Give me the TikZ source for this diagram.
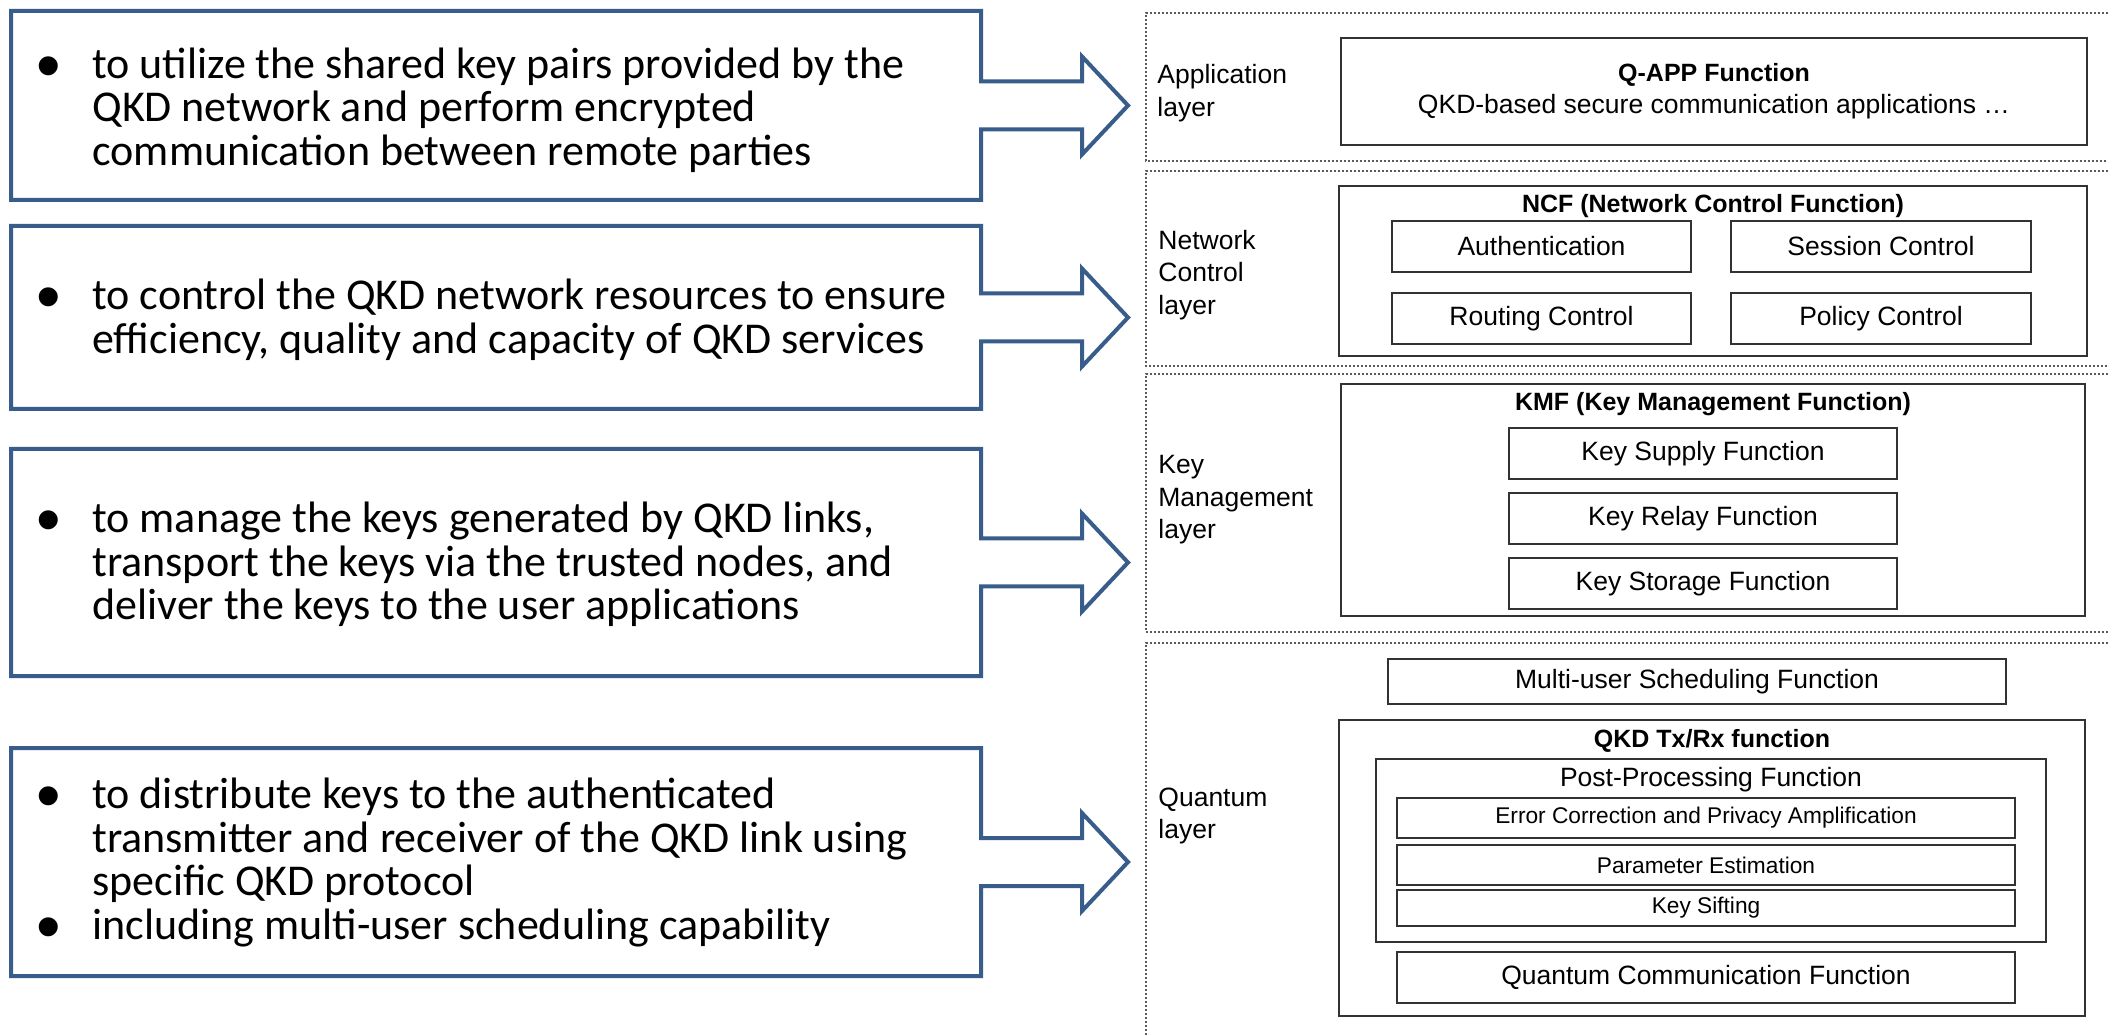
\documentclass[tikz,border=0pt]{standalone}
\usepackage{fontspec}
\setmainfont{Liberation Sans}
\newfontfamily\calfont{Carlito}
\usetikzlibrary{calc}
\definecolor{callblue}{RGB}{56,93,138}
\definecolor{boxgray}{RGB}{50,50,50}
\definecolor{dotgray}{RGB}{90,90,90}
\newcommand{\bul}{\makebox[28pt][l]{\raisebox{-5.5pt}{\normalfont\fontsize{35}{22}\selectfont •}}}
\newcommand{\ind}{\hspace*{28pt}}
\newcommand{\fbx}[6]{%
  \pgfmathsetmacro{\fw}{(#4-#2)*0.5}%
  \pgfmathsetmacro{\fh}{(#5-#3)*0.5}%
  \node[fbox, minimum width=\fw pt, minimum height=\fh pt] (#1) at ({(#2+#4)/2},{(#3+#5)/2}) {#6};}
\newcommand{\callbody}[3]{%
  \pgfmathsetmacro{\fh}{(#3-#2)*0.5}%
  \node[calbody, minimum height=\fh pt] (#1) at (496,{(#2+#3)/2}) {};
  \draw[callout] (#1.north west) -- (#1.north east) -- ($(#1.east)+(0,-24)$) -- ($(#1.east)+(101,-24)$) -- ($(#1.east)+(101,-49)$) -- ($(#1.east)+(147,0)$) -- ($(#1.east)+(101,49)$) -- ($(#1.east)+(101,24)$) -- ($(#1.east)+(0,24)$) -- (#1.south east) -- (#1.south west) -- cycle;}
\begin{document}
\begin{tikzpicture}[x=0.5pt,y=-0.5pt,
  callout/.style={draw=callblue, line width=2pt, fill=white, line join=miter},
  calbody/.style={rectangle, inner sep=0pt, outer sep=0pt, minimum width=485pt},
  caltext/.style={anchor=west, align=left, inner sep=0pt, font=\calfont\fontsize{22}{21.75}\selectfont},
  fbox/.style={draw=boxgray, line width=1pt, fill=white, inner sep=0pt, align=center, font=\fontsize{13.25}{16}\selectfont},
  smallbox/.style={font=\fontsize{11.35}{13}\selectfont},
  ftitle/.style={inner sep=0pt, font=\bfseries\fontsize{12.5}{15}\selectfont},
  plaintitle/.style={inner sep=0pt, font=\fontsize{13.25}{16}\selectfont},
  layerlbl/.style={anchor=west, align=left, inner sep=0pt, font=\fontsize{13.25}{16.25}\selectfont},
  layerline/.style={draw=dotgray, line width=0.6pt, dash pattern=on 1pt off 1pt}
]
\useasboundingbox (0,0) rectangle (2108,1036);
\fill[white] (0,0) rectangle (2108,1036);

% ---------- left callouts ----------
\callbody{c1}{11}{200}
\callbody{c2}{226}{409}
\callbody{c3}{449}{676}
\callbody{c4}{748}{976}

\node[caltext] (t1) at (36,110) {\bul to utilize the shared key pairs provided by the\\\ind QKD network and perform encrypted\\\ind communication between remote parties};
\node[caltext] (t2) at (36,320) {\bul to control the QKD network resources to ensure\\\ind efficiency, quality and capacity of QKD services};
\node[caltext] (t3) at (36,564.5) {\bul to manage the keys generated by QKD links,\\\ind transport the keys via the trusted nodes, and\\\ind deliver the keys to the user applications};
\node[caltext] (t4) at (36,864) {\bul to distribute keys to the authenticated\\\ind transmitter and receiver of the QKD link using\\\ind specific QKD protocol\\\bul including multi-user scheduling capability};

% ---------- layer frames ----------
\draw[layerline] (2108,13) -- (1146,13) -- (1146,161) -- (2108,161);
\draw[layerline] (2108,171) -- (1146,171) -- (1146,366) -- (2108,366);
\draw[layerline] (2108,374) -- (1146,374) -- (1146,632) -- (2108,632);
\draw[layerline] (2108,643) -- (1146,643) -- (1146,1036);

\node[layerlbl] (l1) at (1157,93) {Application\\layer};
\node[layerlbl] (l2) at (1158,275) {Network\\Control\\layer};
\node[layerlbl] (l3) at (1158,500) {Key\\Management\\layer};
\node[layerlbl] (l4) at (1158,816) {Quantum\\layer};

% ---------- application layer ----------
\fbx{qapp}{1341}{38}{2087}{145}{{\bfseries\fontsize{12.5}{16}\selectfont Q-APP Function}\\QKD-based secure communication applications …}

% ---------- network control layer ----------
\fbx{ncf}{1339}{186}{2087}{356}{}
\node[ftitle] (ncft) at (1713,206) {NCF (Network Control Function)};
\fbx{auth}{1392}{221}{1691}{272}{Authentication}
\fbx{sess}{1731}{221}{2031}{272}{Session Control}
\fbx{rout}{1392}{293}{1691}{344}{Routing Control}
\fbx{poli}{1731}{293}{2031}{344}{Policy Control}

% ---------- key management layer ----------
\fbx{kmf}{1341}{384}{2085}{616}{}
\node[ftitle] (kmft) at (1713,404) {KMF (Key Management Function)};
\fbx{ksup}{1509}{428}{1897}{479}{Key Supply Function}
\fbx{krel}{1509}{493}{1897}{544}{Key Relay Function}
\fbx{ksto}{1509}{558}{1897}{609}{Key Storage Function}

% ---------- quantum layer ----------
\fbx{mus}{1388}{659}{2006}{704}{Multi-user Scheduling Function}
\fbx{txrx}{1339}{720}{2085}{1016}{}
\node[ftitle] (txrxt) at (1712,741) {QKD Tx/Rx function};
\fbx{pp}{1376}{759}{2046}{942}{}
\node[plaintitle] (ppt) at (1711,780) {Post-Processing Function};
\tikzset{fbox/.append style={smallbox}}
\fbx{ec}{1397}{798}{2015}{838}{Error Correction and Privacy Amplification}
\fbx{pe}{1397}{845}{2015}{885}{Parameter Estimation}
\fbx{ks}{1397}{890}{2015}{926}{Key Sifting}
\tikzset{fbox/.append style={font=\fontsize{13.25}{16}\selectfont}}
\fbx{qc}{1397}{952}{2015}{1003}{Quantum Communication Function}
\end{tikzpicture}
\end{document}
